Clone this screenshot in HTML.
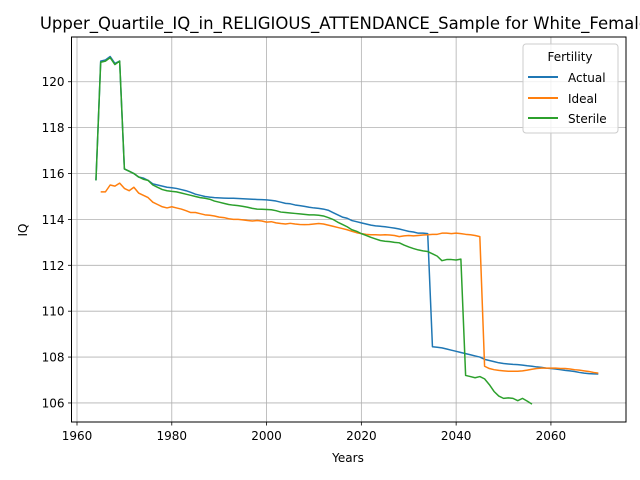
<!DOCTYPE html>
<html><head><meta charset="utf-8"><style>
body{margin:0;background:#fff}
svg{display:block;font-family:"DejaVu Sans","Liberation Sans",sans-serif}
</style></head><body>
<svg id="chart" width="640" height="480" viewBox="0 0 640 480">
<rect width="640" height="480" fill="#fff"/>
<g id="grid"></g><g id="ticks"></g><g id="series"></g>
<rect x="71.5" y="37" width="554.5" height="385" fill="none" stroke="#000" stroke-width="1"/>
<text x="348.75" y="29" text-anchor="middle" font-size="16.5">Upper_Quartile_IQ_in_RELIGIOUS_ATTENDANCE_Sample for White_Females</text>
<text x="348" y="462" text-anchor="middle" font-size="12">Years</text>
<text transform="translate(27,230) rotate(-90)" text-anchor="middle" font-size="12">IQ</text>
<g>
<rect x="523" y="44" width="95" height="89" rx="3" fill="#fff" fill-opacity="0.8" stroke="#ccc"/>
<text x="570" y="61" text-anchor="middle" font-size="12">Fertility</text>
<g><line x1="528" y1="77" x2="558" y2="77" stroke="#1f77b4" stroke-width="2"/><text x="568" y="82" font-size="12">Actual</text></g>
<g><line x1="528" y1="98" x2="558" y2="98" stroke="#ff7f0e" stroke-width="2"/><text x="568" y="103" font-size="12">Ideal</text></g>
<g><line x1="528" y1="118" x2="558" y2="118" stroke="#2ca02c" stroke-width="2"/><text x="568" y="123" font-size="12">Sterile</text></g>
</g>
</svg>
<script>
const xTicks=[1960,1980,2000,2020,2040,2060];
const yTicks=[106,108,110,112,114,116,118,120];
const actualStart=1964;
const actualValues=[115.7,120.9,120.95,121.1,120.8,120.9,116.2,116.1,116.0,115.85,115.8,115.7,115.55,115.5,115.45,115.4,115.38,115.35,115.3,115.25,115.18,115.1,115.05,115.0,114.97,114.95,114.94,114.93,114.92,114.92,114.91,114.9,114.89,114.88,114.87,114.86,114.85,114.83,114.8,114.75,114.7,114.68,114.63,114.6,114.57,114.53,114.5,114.48,114.45,114.4,114.3,114.2,114.1,114.05,113.95,113.9,113.85,113.8,113.75,113.72,113.7,113.68,113.65,113.62,113.58,113.53,113.48,113.45,113.4,113.4,113.38,108.45,108.43,108.4,108.35,108.3,108.25,108.2,108.15,108.1,108.05,108.0,107.9,107.85,107.8,107.75,107.72,107.7,107.68,107.67,107.65,107.62,107.6,107.57,107.55,107.52,107.5,107.48,107.45,107.42,107.4,107.37,107.33,107.3,107.28,107.27,107.26];
const idealStart=1965;
const idealValues=[115.2,115.2,115.5,115.45,115.58,115.35,115.25,115.4,115.15,115.05,114.95,114.75,114.65,114.55,114.5,114.55,114.5,114.45,114.38,114.3,114.3,114.25,114.2,114.18,114.15,114.1,114.08,114.03,114.0,114.0,113.98,113.95,113.93,113.95,113.93,113.88,113.9,113.85,113.82,113.8,113.83,113.8,113.78,113.77,113.78,113.8,113.82,113.8,113.75,113.7,113.65,113.6,113.55,113.48,113.42,113.38,113.35,113.33,113.33,113.32,113.33,113.32,113.3,113.25,113.28,113.3,113.28,113.3,113.32,113.33,113.35,113.35,113.4,113.4,113.38,113.4,113.38,113.35,113.33,113.3,113.25,107.6,107.5,107.45,107.42,107.4,107.38,107.38,107.38,107.4,107.43,107.47,107.5,107.52,107.52,107.52,107.52,107.5,107.5,107.48,107.45,107.43,107.4,107.37,107.33,107.3];
const sterileStart=1964;
const sterileValues=[115.7,120.85,120.9,121.05,120.75,120.9,116.2,116.1,116.0,115.85,115.75,115.7,115.5,115.4,115.3,115.25,115.22,115.2,115.15,115.1,115.05,115.0,114.95,114.92,114.88,114.8,114.75,114.7,114.65,114.62,114.6,114.57,114.53,114.48,114.45,114.44,114.43,114.42,114.38,114.32,114.3,114.28,114.26,114.24,114.22,114.2,114.2,114.18,114.15,114.08,114.0,113.88,113.78,113.68,113.55,113.48,113.38,113.3,113.22,113.15,113.08,113.05,113.03,113.0,112.98,112.88,112.8,112.73,112.67,112.63,112.6,112.5,112.4,112.2,112.25,112.25,112.23,112.27,107.2,107.15,107.1,107.15,107.05,106.8,106.5,106.3,106.2,106.22,106.2,106.1,106.2,106.08,105.95];

const L=71.5,R=626,T=37,B=422;
const xMin=1958.84,xMax=2075.84,yMin=105.17,yMax=121.95;
const xs=v=>L+(v-xMin)/(xMax-xMin)*(R-L);
const ys=v=>B-(v-yMin)/(yMax-yMin)*(B-T);
const NS='http://www.w3.org/2000/svg';
function mk(tag,attrs,parent){const e=document.createElementNS(NS,tag);for(const k in attrs)e.setAttribute(k,attrs[k]);parent.appendChild(e);return e;}
const grid=document.getElementById('grid'),ticks=document.getElementById('ticks'),series=document.getElementById('series');
xTicks.forEach(t=>{const x=xs(t);
 const g=mk('line',{x1:x,x2:x,y1:T,y2:B,stroke:'#b0b0b0','stroke-width':0.8},grid);
 
 
 mk('line',{x1:x,x2:x,y1:B,y2:B+3.5,stroke:'#000','stroke-width':0.8},ticks);
 const tx=mk('text',{x:x,y:B+18,'text-anchor':'middle','font-size':12},ticks);tx.textContent=t;
 
 
});
yTicks.forEach(t=>{const y=ys(t);
 const g=mk('line',{x1:L,x2:R,y1:y,y2:y,stroke:'#b0b0b0','stroke-width':0.8},grid);
 
 
 mk('line',{x1:L-3.5,x2:L,y1:y,y2:y,stroke:'#000','stroke-width':0.8},ticks);
 const tx=mk('text',{x:L-7,y:y+4.5,'text-anchor':'end','font-size':12},ticks);tx.textContent=t;
 
 
});
function line(start,vals,color,name){
 const pts=vals.map((v,i)=>xs(start+i).toFixed(2)+','+ys(v).toFixed(2)).join(' ');
 const p=mk('polyline',{points:pts,fill:'none',stroke:color,'stroke-width':1.5,'stroke-linejoin':'round'},series);
 
 
}
line(actualStart,actualValues,'#1f77b4','actual-line');
line(idealStart,idealValues,'#ff7f0e','ideal-line');
line(sterileStart,sterileValues,'#2ca02c','sterile-line');
</script>
</body></html>
